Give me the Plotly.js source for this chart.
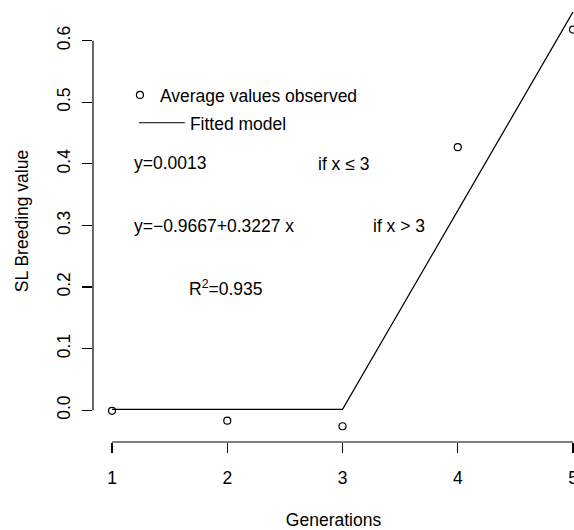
<!DOCTYPE html>
<html>
<head>
<meta charset="utf-8">
<script src="https://cdn.plot.ly/plotly-3.0.1.min.js"></script>
<style>html,body{margin:0;padding:0;background:#fff;}#chart{width:574px;height:530px;}</style>
</head>
<body>
<div id="chart"></div>
<script>
// Data
var generations = [1, 2, 3, 4, 5];
var observed = [-0.001, -0.017, -0.026, 0.427, 0.618];
var fitted = [0.0013, 0.0013, 0.0013, 0.3241, 0.6468];
var xTicks = [1, 2, 3, 4, 5];
var yTicks = [0.0, 0.1, 0.2, 0.3, 0.4, 0.5, 0.6];
var yTickText = ['0.0', '0.1', '0.2', '0.3', '0.4', '0.5', '0.6'];
var legendNames = ['Average values observed', 'Fitted model'];
var xTitle = 'Generations';
var yTitle = 'SL Breeding value';
var eqLabels = ['y=0.0013', 'if x \u2264 3', 'y=\u22120.9667+0.3227 x', 'if x > 3', 'R<sup>2</sup>=0.935'];
var eqX = [1.17, 2.77, 1.17, 3.247, 1.65];
var eqY = [0.402, 0.400, 0.299, 0.299, 0.199];

var FONT = 'Liberation Sans, Arial, Helvetica, sans-serif';
var FS = 17.5;

var traces = [
  {
    x: generations, y: observed, type: 'scatter', mode: 'markers',
    name: legendNames[0], legend: 'legend',
    marker: {symbol: 'circle-open', size: 7, color: '#000', line: {width: 1.2, color: '#000'}},
    cliponaxis: true
  },
  {
    x: generations, y: fitted, type: 'scatter', mode: 'lines',
    name: legendNames[1], legend: 'legend2',
    line: {color: '#000', width: 1.2},
    cliponaxis: true
  }
];

var annotations = eqLabels.map(function (t, i) {
  return {x: eqX[i], y: eqY[i], xref: 'x', yref: 'y', text: t, showarrow: false,
    xanchor: 'left', yanchor: 'middle', font: {family: FONT, size: FS, color: '#000'}};
});

var layout = {
  width: 574, height: 530,
  margin: {l: 93, r: 0, t: 0, b: 87.5},
  paper_bgcolor: '#fff', plot_bgcolor: '#fff',
  font: {family: FONT, size: FS, color: '#000'},
  showlegend: true,
  legend: {x: 0.056, y: 0.785, xanchor: 'left', yanchor: 'middle', bgcolor: 'rgba(0,0,0,0)',
    font: {family: FONT, size: FS, color: '#000'}},
  legend2: {x: 0.085, y: 0.722, xanchor: 'left', yanchor: 'middle', bgcolor: 'rgba(0,0,0,0)',
    itemwidth: 46, font: {family: FONT, size: FS, color: '#000'}},
  xaxis: {
    range: [0.835, 5.0085], showgrid: false, zeroline: false, showline: false,
    tickmode: 'array', tickvals: xTicks, ticktext: xTicks.map(String),
    ticks: 'outside', ticklen: 10, tickwidth: 1.2, tickcolor: '#000',
    ticklabelstandoff: 10, ticklabeloverflow: 'allow',
    tickfont: {family: FONT, size: FS, color: '#000'},
    title: {text: xTitle, font: {family: FONT, size: FS, color: '#000'}, standoff: 28},
    automargin: false
  },
  yaxis: {
    range: [-0.0516, 0.666], showgrid: false, zeroline: false, showline: false,
    tickmode: 'array', tickvals: yTicks, ticktext: yTickText, tickangle: -90,
    ticks: 'outside', ticklen: 10, tickwidth: 1.2, tickcolor: '#000',
    ticklabelstandoff: 5, ticklabeloverflow: 'allow',
    tickfont: {family: FONT, size: FS, color: '#000'},
    title: {text: yTitle, font: {family: FONT, size: FS, color: '#000'}, standoff: 20},
    automargin: false
  },
  shapes: [
    {type: 'line', xref: 'x', yref: 'paper', x0: xTicks[0], x1: xTicks[xTicks.length - 1], y0: 0, y1: 0,
      line: {color: '#000', width: 1.2}},
    {type: 'line', xref: 'paper', yref: 'y', x0: 0, x1: 0, y0: yTicks[0], y1: yTicks[yTicks.length - 1],
      line: {color: '#000', width: 1.2}}
  ],
  annotations: annotations
};

Plotly.newPlot('chart', traces, layout, {displayModeBar: false, staticPlot: true});
</script>
</body>
</html>
